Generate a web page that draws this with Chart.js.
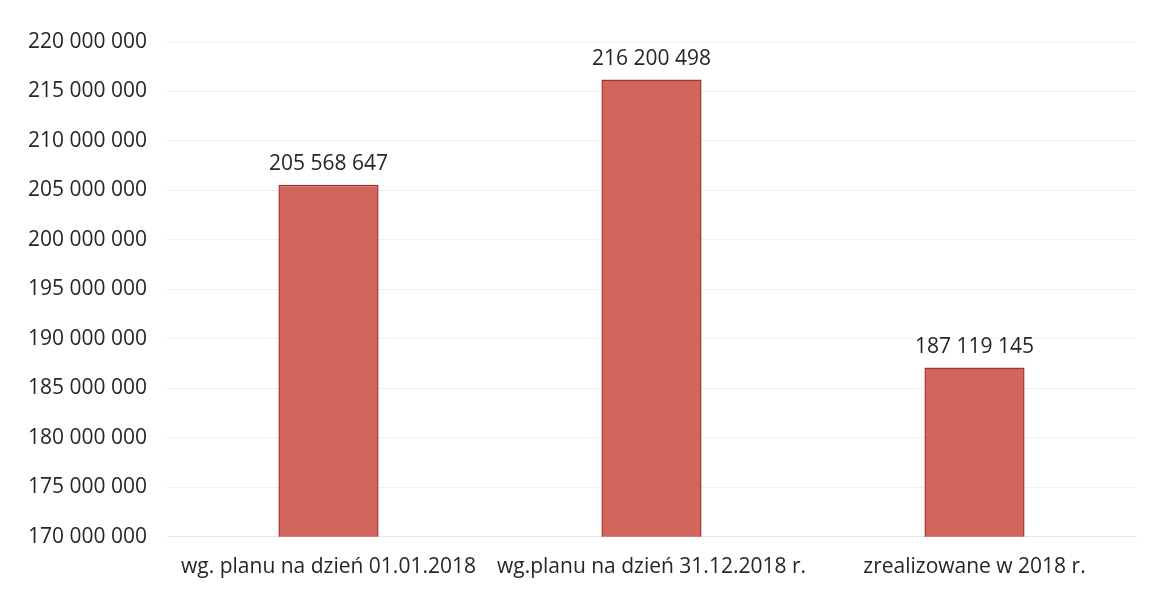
<!DOCTYPE html>
<html>
<head>
<meta charset="utf-8">
<script src="https://cdn.jsdelivr.net/npm/chart.js"></script>
<style>
  html, body { margin: 0; padding: 0; background: #fff; }
  #wrap { width: 1151px; height: 590px; }
</style>
</head>
<body>
<div id="wrap"><canvas id="chart"></canvas></div>
<script>
    // data
    const categories = ['wg. planu na dzień 01.01.2018', 'wg.planu na dzień 31.12.2018 r.', 'zrealizowane w 2018 r.'];
    const values = [205568647, 216200498, 187119145];
    const yMin = 170000000;
    const yMax = 220000000;
    const yStep = 5000000;

    function spaced(n) {
        return String(Math.round(n)).replace(/\B(?=(\d{3})+(?!\d))/g, ' ');
    }

    // labels over the bars
    const valueLabels = {
        id: 'valueLabels',
        afterDatasetsDraw(chart) {
            const ctx = chart.ctx;
            const meta = chart.getDatasetMeta(0);
            ctx.save();
            ctx.font = '21px "Open Sans"';
            ctx.fillStyle = '#262626';
            ctx.textAlign = 'center';
            ctx.textBaseline = 'bottom';
            meta.data.forEach((bar, i) => {
                ctx.fillText(spaced(values[i]), bar.x, bar.y - 10);
            });
            ctx.restore();
        }
    };

    new Chart(document.getElementById('chart'), {
        type: 'bar',
        data: {
            labels: categories,
            datasets: [{
                data: values,
                backgroundColor: '#d0665c',
                borderColor: '#a8302b',
                borderWidth: 1.5,
                barPercentage: 0.31,
                categoryPercentage: 1
            }]
        },
        options: {
            responsive: true,
            maintainAspectRatio: false,
            animation: false,
            layout: { padding: { top: 42, right: 15, bottom: 0, left: 0 } },
            plugins: {
                legend: { display: false },
                tooltip: { enabled: false }
            },
            scales: {
                x: {
                    grid: { display: false },
                    border: { display: true, color: '#e8e8e8' },
                    ticks: {
                        color: '#262626',
                        font: { family: 'Open Sans', size: 21 },
                        padding: 10,
                        maxRotation: 0
                    }
                },
                y: {
                    min: yMin,
                    max: yMax,
                    afterFit(scale) { scale.width = 167; },
                    grid: { color: '#f0f0f0', drawTicks: false },
                    border: { display: false },
                    ticks: {
                        stepSize: yStep,
                        color: '#262626',
                        font: { family: 'Open Sans', size: 21 },
                        padding: 20,
                        callback: (v) => spaced(v)
                    }
                }
            }
        },
        plugins: [valueLabels]
    });
</script>
</body>
</html>
